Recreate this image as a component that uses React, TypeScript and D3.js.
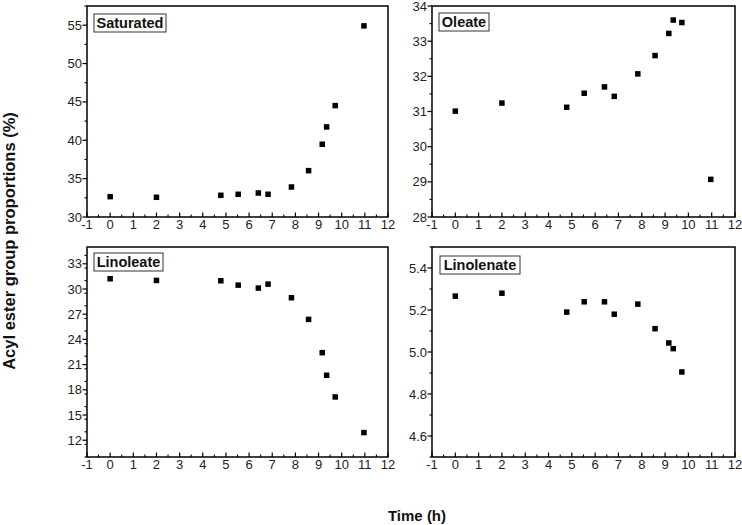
import React from "react";
import * as d3 from "d3";

const times = [0, 2, 4.78, 5.53, 6.4, 6.82, 7.83, 8.57, 9.16, 9.35, 9.72, 10.96];
const saturated = [32.65, 32.57, 32.83, 32.96, 33.13, 32.96, 33.91, 36.04, 39.48, 41.74, 44.52, 54.91];
const oleate = [31.01, 31.24, 31.12, 31.52, 31.7, 31.43, 32.07, 32.59, 33.22, 33.6, 33.53, 29.07];
const linoleate = [31.22, 31.02, 30.98, 30.46, 30.11, 30.58, 28.96, 26.38, 22.42, 19.73, 17.15, 12.91];
const linolenate = [5.266, 5.28, 5.19, 5.239, 5.239, 5.18, 5.228, 5.111, 5.043, 5.016, 4.905];

const xTicks = d3.range(-1, 13, 1);
const satTicks = [30, 35, 40, 45, 50, 55];
const oleTicks = [28, 29, 30, 31, 32, 33, 34];
const linoTicks = [12, 15, 18, 21, 24, 27, 30, 33];
const lenTicks = [4.6, 4.8, 5.0, 5.2, 5.4];

const panels = [
  { name: "Saturated", values: saturated, domain: [30, 57.5], ticks: satTicks, minor: 2.5, fmt: (v: number) => String(v), x0: 87, x1: 388, y0: 6, y1: 217, lx: 94, ly: 14, lw: 72 },
  { name: "Oleate", values: oleate, domain: [28, 34], ticks: oleTicks, minor: 0.5, fmt: (v: number) => String(v), x0: 432, x1: 735, y0: 6, y1: 217, lx: 439, ly: 13, lw: 50 },
  { name: "Linoleate", values: linoleate, domain: [10, 35], ticks: linoTicks, minor: 1.5, fmt: (v: number) => String(v), x0: 87, x1: 388, y0: 247, y1: 457, lx: 94, ly: 253, lw: 69 },
  { name: "Linolenate", values: linolenate, domain: [4.5, 5.5], ticks: lenTicks, minor: 0.1, fmt: (v: number) => v.toFixed(1), x0: 432, x1: 735, y0: 247, y1: 457, lx: 440, ly: 256, lw: 80 },
];

const FONT = "Arial, 'Liberation Sans', Helvetica, sans-serif";

function Panel({ p }: { p: typeof panels[number] }) {
  const x = d3.scaleLinear().domain([-1, 12]).range([p.x0, p.x1]);
  const y = d3.scaleLinear().domain(p.domain).range([p.y1, p.y0]);
  const minorX = d3.range(-0.5, 12, 1);
  const minorY: number[] = [];
  for (let v = p.domain[0]; v <= p.domain[1] + 1e-9; v += p.minor) {
    const isMajor = p.ticks.some((t) => Math.abs(t - v) < 1e-6);
    if (!isMajor) minorY.push(v);
  }
  const s = 5.5;
  return (
    <g>
      <rect x={p.x0} y={p.y0} width={p.x1 - p.x0} height={p.y1 - p.y0} fill="white" stroke="black" strokeWidth={1.5} />
      {xTicks.map((t) => (
        <g key={"xt" + t}>
          <line x1={x(t)} x2={x(t)} y1={p.y1} y2={p.y1 - 4.5} stroke="black" strokeWidth={1.2} />
          <text x={x(t)} y={p.y1 + 12} textAnchor="middle" fontSize={13} fontFamily={FONT} fill="#222">{t}</text>
        </g>
      ))}
      {minorX.map((t) => (
        <line key={"xm" + t} x1={x(t)} x2={x(t)} y1={p.y1} y2={p.y1 - 2.5} stroke="black" strokeWidth={1.1} />
      ))}
      {p.ticks.map((t) => (
        <g key={"yt" + t}>
          <line x1={p.x0} x2={p.x0 - 4.5} y1={y(t)} y2={y(t)} stroke="black" strokeWidth={1.2} />
          <text x={p.x0 - 5} y={y(t) + 4.5} textAnchor="end" fontSize={13} fontFamily={FONT} fill="#222">{p.fmt(t)}</text>
        </g>
      ))}
      {minorY.map((t) => (
        <line key={"ym" + t} x1={p.x0} x2={p.x0 - 2.5} y1={y(t)} y2={y(t)} stroke="black" strokeWidth={1.1} />
      ))}
      {p.values.map((v, i) => (
        <rect key={"pt" + i} x={x(times[i]) - s / 2} y={y(v) - s / 2} width={s} height={s} fill="black" />
      ))}
      <rect x={p.lx} y={p.ly} width={p.lw} height={18} fill="white" stroke="#333" strokeWidth={1} />
      <text x={p.lx + p.lw / 2} y={p.ly + 14} textAnchor="middle" fontSize={14.5} fontWeight="bold" fontFamily={FONT} fill="#111">{p.name}</text>
    </g>
  );
}

export default function App() {
  return (
    <svg width={742} height={525} style={{ position: "absolute", left: 0, top: 0, background: "white" }}>
      <rect x={0} y={0} width={742} height={525} fill="white" />
      {panels.map((p) => (
        <Panel key={p.name} p={p} />
      ))}
      <text transform="translate(14.5,241) rotate(-90)" textAnchor="middle" fontSize={16.5} fontWeight="bold" fontFamily={FONT} fill="#111">
        Acyl ester group proportions (%)
      </text>
      <text x={417} y={521} textAnchor="middle" fontSize={15} fontWeight="bold" fontFamily={FONT} fill="#111">
        Time (h)
      </text>
    </svg>
  );
}
